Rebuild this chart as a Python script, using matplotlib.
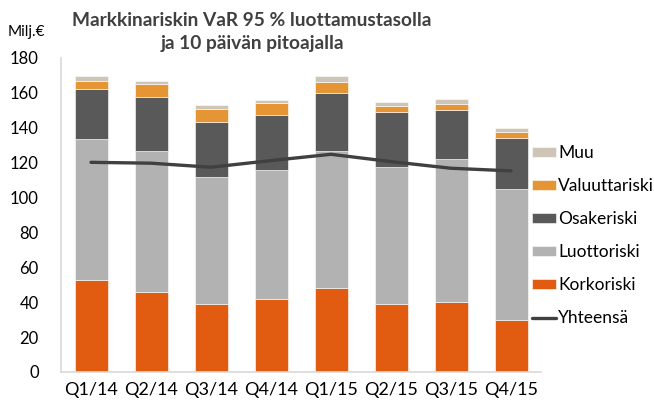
import matplotlib.pyplot as plt
import numpy as np

plt.rcParams['font.family'] = ['Lato', 'DejaVu Sans']

quarters = ['Q1/14', 'Q2/14', 'Q3/14', 'Q4/14', 'Q1/15', 'Q2/15', 'Q3/15', 'Q4/15']
korko = [52.8, 46.0, 38.8, 41.9, 48.3, 38.8, 40.3, 29.8]
luotto = [80.6, 80.9, 73.2, 73.9, 78.4, 78.6, 81.7, 75.0]
osake = [28.7, 31.0, 31.5, 31.6, 33.3, 31.9, 28.2, 29.5]
valuutta = [4.9, 7.1, 7.1, 6.7, 6.5, 3.4, 3.6, 3.5]
muu = [2.7, 2.0, 2.5, 1.9, 3.2, 2.1, 2.6, 2.1]
yhteensa = [120.2, 119.7, 117.4, 121.2, 124.8, 120.6, 116.8, 115.3]

series = [('Korkoriski', korko, '#E15B10'),
          ('Luottoriski', luotto, '#B2B2B2'),
          ('Osakeriski', osake, '#595959'),
          ('Valuuttariski', valuutta, '#E59533'),
          ('Muu', muu, '#CEC5B6')]

txt = '#404040'
fig = plt.figure(figsize=(6.54, 4.08), dpi=100)
ax = fig.add_axes([61 / 654, 36 / 408, 480 / 654, 314 / 408])

x = np.arange(len(quarters))
bottom = np.zeros(len(quarters))
handles = {}
for name, vals, col in series:
    b = ax.bar(x, vals, width=0.55, bottom=bottom, color=col,
               edgecolor='white', linewidth=0.4, label=name)
    handles[name] = b
    bottom += np.array(vals)

line, = ax.plot(x, yhteensa, color='#404040', lw=2.4, label='Yhteensä',
                solid_capstyle='round')

ax.set_xlim(-0.5, 7.5)
ax.set_ylim(0, 180)
ax.set_yticks(np.arange(0, 181, 20))
ax.set_xticks(x)
ax.set_xticklabels(quarters)
ax.tick_params(axis='both', length=0, colors='black')
ax.tick_params(axis='x', pad=7, labelsize=13)
ax.tick_params(axis='y', pad=16, labelsize=12)
for s in ['top', 'right']:
    ax.spines[s].set_visible(False)
for s in ['left', 'bottom']:
    ax.spines[s].set_color('#D9D9D9')
    ax.spines[s].set_linewidth(1.2)

order = ['Muu', 'Valuuttariski', 'Osakeriski', 'Luottoriski', 'Korkoriski']
leg = fig.legend([handles[n] for n in order] + [line], order + ['Yhteensä'],
                 loc='upper left', bbox_to_anchor=(532 / 654, (408 - 145) / 408),
                 frameon=False, fontsize=12.5, handlelength=1.4, handleheight=0.46,
                 handletextpad=0.12, labelspacing=0.98, borderpad=0,
                 borderaxespad=0)
for t in leg.get_texts():
    t.set_color('black')

fig.text(252 / 654, (408 - 12) / 408,
         'Markkinariskin VaR 95 % luottamustasolla\nja 10 päivän pitoajalla',
         ha='center', va='top', fontsize=13.8, fontweight='bold', color=txt,
         linespacing=1.4)
fig.text(8 / 654, (408 - 32) / 408, 'Milj.€', ha='left', va='center',
         fontsize=11, color='black')

fig.savefig('out.png', dpi=100)
